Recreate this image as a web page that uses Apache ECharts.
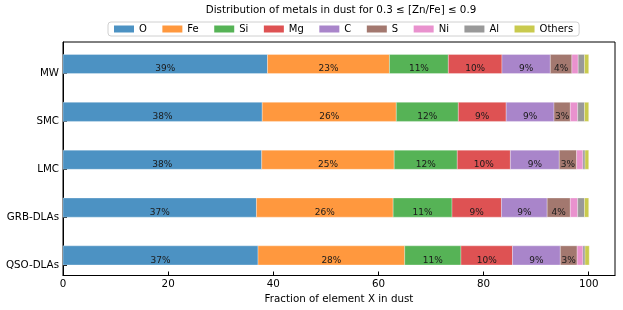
<!DOCTYPE html>
<html>
<head>
<meta charset="utf-8">
<script src="https://cdn.jsdelivr.net/npm/echarts@6/dist/echarts.min.js"></script>
<style>html,body{margin:0;padding:0;background:#fff}#c{width:623px;height:310px}</style>
</head>
<body>
<div id="c"></div>
<script>
const categories = ['MW', 'SMC', 'LMC', 'GRB-DLAs', 'QSO-DLAs'];
const elements = ['O', 'Fe', 'Si', 'Mg', 'C', 'S', 'Ni', 'Al', 'Others'];
const O      = [38.9, 37.9, 37.8, 36.8, 37.1];
const Fe     = [23.2, 25.5, 25.2, 26.0, 27.9];
const Si     = [11.2, 11.8, 12.0, 11.2, 10.7];
const Mg     = [10.2, 9.1, 10.1, 9.4, 9.8];
const C      = [9.2, 9.1, 9.3, 8.7, 9.1];
const S      = [4.1, 3.1, 3.3, 4.4, 3.2];
const Ni     = [1.2, 1.4, 1.2, 1.4, 1.1];
const Al     = [1.2, 1.3, 0.4, 1.3, 0.4];
const Others = [0.8, 0.8, 0.7, 0.8, 0.8];
const xTicks = [0, 20, 40, 60, 80, 100];

const values = [O, Fe, Si, Mg, C, S, Ni, Al, Others];
const colors = ['#4c92c3', '#ff983e', '#56b356', '#de5253', '#a985ca', '#a3786f', '#e992ce', '#999999', '#c9ca4e'];
const FONT = 'DejaVu Sans';
const FS = 10.3;

const cum = categories.map(() => 0);
const series = elements.map((name, k) => {
  const data = categories.map((c, i) => {
    const s = cum[i];
    cum[i] += values[k][i];
    return [i, s, values[k][i]];
  });
  return {
    type: 'custom',
    name: name,
    itemStyle: { color: colors[k] },
    encode: { y: 0, x: [1, 2] },
    data: data,
    renderItem: function (params, api) {
      const y = api.value(0), s = api.value(1), v = api.value(2);
      const p1 = api.coord([s, y - 0.4]);
      const p2 = api.coord([s + v, y]);
      const top = Math.min(p1[1], p2[1]);
      const h = Math.abs(p2[1] - p1[1]);
      const children = [{
        type: 'rect',
        shape: { x: p1[0], y: top, width: p2[0] - p1[0], height: h },
        style: { fill: colors[k], stroke: 'rgba(255,255,255,0.5)', lineWidth: 0.6 }
      }];
      if (v >= 2.5) {
        children.push({
          type: 'text',
          style: {
            text: Math.round(v) + '%',
            x: (p1[0] + p2[0]) / 2, y: top + h / 2 + 0.5,
            align: 'center', verticalAlign: 'top',
            font: '9px "' + FONT + '"', fill: '#1a1a1a'
          }
        });
      }
      return { type: 'group', children: children };
    }
  };
});

const chart = echarts.init(document.getElementById('c'), null, { renderer: 'canvas' });
chart.setOption({
  animation: false,
  backgroundColor: '#fff',
  textStyle: { fontFamily: FONT },
  graphic: [{
    type: 'text',
    style: {
      text: 'Distribution of metals in dust for 0.3 ≤ [Zn/Fe] ≤ 0.9',
      x: 341, y: 10, align: 'center', verticalAlign: 'middle',
      font: FS + 'px "' + FONT + '"', fill: '#000'
    }
  }],
  legend: {
    data: elements,
    left: 108, top: 22,
    icon: 'rect', itemWidth: 20, itemHeight: 7, itemGap: 15.5,
    padding: [2, 6], borderColor: '#d0d0d0', borderWidth: 1, borderRadius: 3,
    textStyle: { fontFamily: FONT, fontSize: 10, color: '#000' }
  },
  grid: { left: 63, right: 8, top: 42, height: 233.5, show: true, borderColor: '#000', borderWidth: 1, backgroundColor: 'transparent' },
  xAxis: {
    type: 'value', min: 0, max: 105, interval: 20,
    name: 'Fraction of element X in dust', nameLocation: 'middle', nameGap: 17,
    nameTextStyle: { fontFamily: FONT, fontSize: FS, color: '#000' },
    axisLine: { show: true, onZero: false, lineStyle: { color: '#000', width: 1 } },
    axisTick: { show: true, inside: true, length: 4, lineStyle: { color: '#000' }, customValues: xTicks },
    axisLabel: { customValues: xTicks, fontFamily: FONT, fontSize: FS, color: '#000', margin: 4 },
    splitLine: { show: false }
  },
  yAxis: {
    type: 'value', inverse: true, min: -0.66, max: 4.22,
    axisLine: { show: true, onZero: false, lineStyle: { color: '#000', width: 1 } },
    axisTick: { show: true, inside: true, length: 4, lineStyle: { color: '#000' }, customValues: [0, 1, 2, 3, 4] },
    axisLabel: {
      customValues: [0, 1, 2, 3, 4], fontFamily: FONT, fontSize: FS, color: '#000', margin: 4,
      formatter: v => categories[Math.round(v)] || ''
    },
    splitLine: { show: false }
  },
  series: series
});
</script>
</body>
</html>
